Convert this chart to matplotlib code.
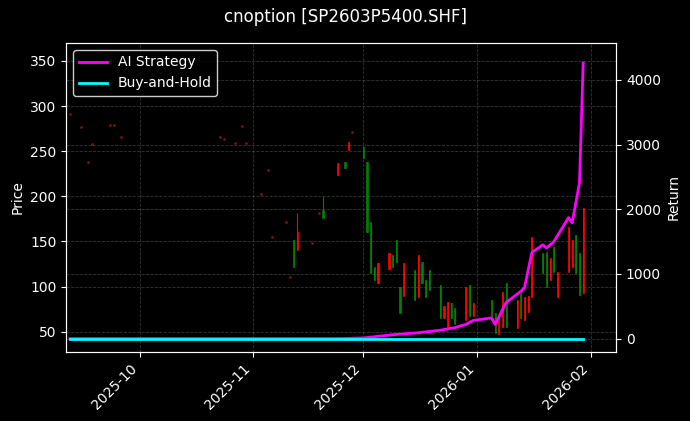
import numpy as np
import pandas as pd
import matplotlib
matplotlib.use("Agg")
import matplotlib.pyplot as plt
import matplotlib.dates as mdates

# --- thin-volume days: drawn as faint dots ---
dot_dates = ["2025-09-12", "2025-09-15", "2025-09-17", "2025-09-18", "2025-09-23", "2025-09-24",
             "2025-09-26", "2025-10-23", "2025-10-24", "2025-10-27", "2025-10-29", "2025-10-30",
             "2025-11-03", "2025-11-05", "2025-11-06", "2025-11-10", "2025-11-11", "2025-11-17",
             "2025-11-19", "2025-11-28"]
dot_price = [291, 277, 238, 258, 279, 279, 266, 266, 263, 259, 278, 259,
             203, 229, 155, 172, 111, 148, 182, 271]

# --- candles (red = up, green = down) ---
c_dates = ["2025-11-12", "2025-11-13", "2025-11-20", "2025-11-24", "2025-11-26", "2025-11-27",
           "2025-12-01", "2025-12-02", "2025-12-03", "2025-12-04", "2025-12-05", "2025-12-08",
           "2025-12-09", "2025-12-10", "2025-12-11", "2025-12-12", "2025-12-15", "2025-12-16",
           "2025-12-17", "2025-12-18", "2025-12-19", "2025-12-22", "2025-12-23", "2025-12-24",
           "2025-12-25", "2025-12-26", "2025-12-29", "2025-12-30", "2025-12-31", "2026-01-05",
           "2026-01-06", "2026-01-07", "2026-01-08", "2026-01-09", "2026-01-12", "2026-01-13",
           "2026-01-14", "2026-01-15", "2026-01-16", "2026-01-19", "2026-01-20", "2026-01-21",
           "2026-01-22", "2026-01-23", "2026-01-26", "2026-01-27", "2026-01-28", "2026-01-29",
           "2026-01-30"]
c_open  = [152, 141, 185, 224, 238, 251, 255, 238, 172, 122, 104, 119,
           135, 152, 100, 89, 118, 88, 127, 107, 118, 102, 65, 55,
           82, 76, 63, 102, 67, 85, 71, 47, 55, 104, 54, 93,
           63, 72, 88, 137, 138, 107, 144, 88, 116, 122, 157, 137,
           93]
c_close = [122, 160, 176, 237, 231, 260, 243, 161, 115, 107, 126, 137,
           122, 127, 71, 126, 85, 135, 104, 88, 96, 65, 78, 83,
           65, 58, 99, 67, 82, 63, 49, 66, 94, 55, 85, 65,
           88, 89, 155, 115, 100, 132, 116, 116, 166, 152, 115, 91,
           187]
c_high  = [152, 181, 200, 237, 238, 260, 255, 238, 172, 122, 126, 137,
           135, 152, 100, 126, 118, 135, 127, 107, 118, 102, 78, 83,
           82, 76, 99, 102, 82, 85, 71, 66, 94, 104, 85, 93,
           88, 89, 155, 137, 138, 132, 144, 116, 166, 152, 157, 137,
           187]
c_low   = [122, 141, 176, 224, 231, 251, 243, 161, 115, 107, 104, 119,
           122, 127, 71, 89, 85, 88, 104, 88, 96, 65, 65, 55,
           65, 58, 63, 67, 67, 63, 49, 47, 55, 55, 54, 65,
           63, 72, 88, 115, 100, 107, 116, 88, 116, 122, 115, 91,
           93]

# --- cumulative return (%) ---
ret_dates = ["2025-09-12", "2025-11-25", "2025-12-01", "2025-12-09", "2025-12-16", "2025-12-22",
             "2025-12-26", "2025-12-29", "2025-12-31", "2026-01-05", "2026-01-06", "2026-01-09",
             "2026-01-13", "2026-01-14", "2026-01-16", "2026-01-19", "2026-01-20", "2026-01-22",
             "2026-01-26", "2026-01-27", "2026-01-29", "2026-01-30"]
ai_ret = [0, 0, 10, 60, 90, 130, 170, 220, 280, 320, 220, 560,
          730, 790, 1330, 1450, 1400, 1500, 1870, 1790, 2410, 4260]
bh_ret = [0] * len(ret_dates)

plt.style.use("dark_background")
fig, ax = plt.subplots(figsize=(6.9, 4.21), dpi=100)
fig.patch.set_facecolor("black")
ax.set_facecolor("black")

cd = pd.to_datetime(c_dates)
for d, o, c, h, l in zip(cd, c_open, c_close, c_high, c_low):
    col = "red" if c >= o else "green"
    ax.vlines(d, l, h, color=col, linewidth=0.8)
    ax.bar(d, abs(c - o), bottom=min(o, c), width=0.35, color=col, edgecolor=col, linewidth=0.5)
ax.scatter(pd.to_datetime(dot_dates), dot_price, s=1.2, color="#6b1515", zorder=2)

ax.set_ylim(28, 370)
ax.set_ylabel("Price")
ax.set_xlim(pd.Timestamp("2025-09-11"), pd.Timestamp("2026-02-08"))
ax.grid(True, linestyle="--", color="gray", alpha=0.4, linewidth=0.6)
ax.xaxis.set_major_locator(mdates.MonthLocator())
ax.xaxis.set_major_formatter(mdates.DateFormatter("%Y-%m"))
plt.setp(ax.get_xticklabels(), rotation=45, ha="right")

ax2 = ax.twinx()
rd = pd.to_datetime(ret_dates)
ax2.plot(rd, ai_ret, color="#ff00ff", linewidth=2, label="AI Strategy")
ax2.plot(rd, bh_ret, color="cyan", linewidth=2, label="Buy-and-Hold")
ax2.set_ylim(-200, 4570)
ax2.set_ylabel("Return")
ax2.grid(True, linestyle="--", color="gray", alpha=0.4, linewidth=0.6)
leg = ax2.legend(loc="upper left", facecolor="black", edgecolor="white")

fig.suptitle("cnoption [SP2603P5400.SHF]", fontsize=12)
fig.subplots_adjust(left=0.096, right=0.893, top=0.898, bottom=0.165)
fig.savefig("out.png", dpi=100, facecolor="black")
